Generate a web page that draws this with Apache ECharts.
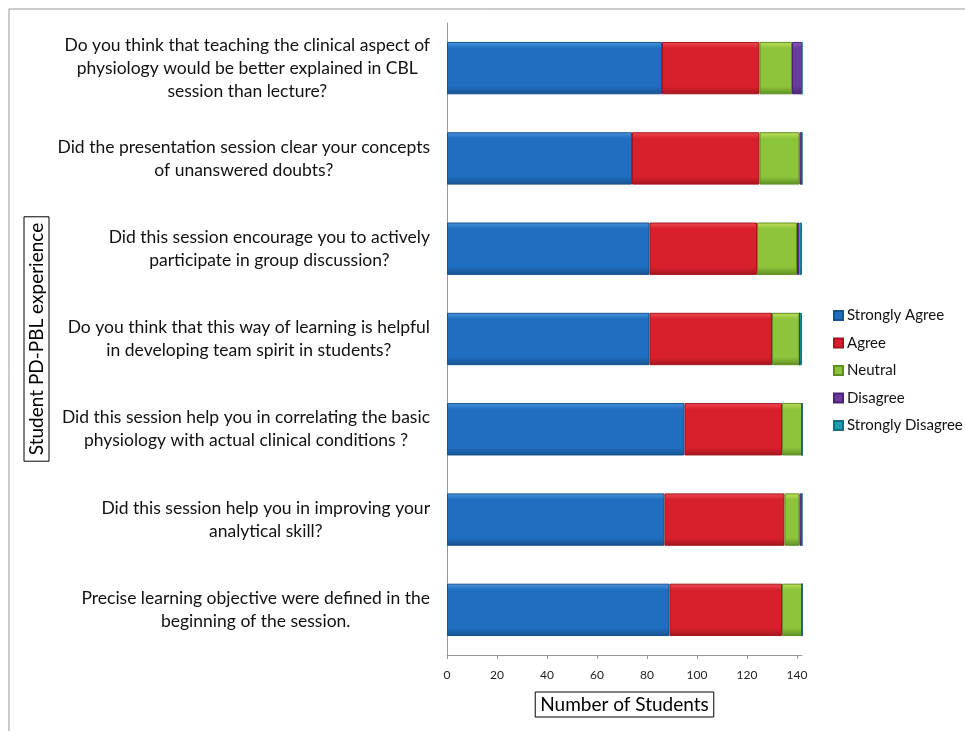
<!DOCTYPE html>
<html>
<head>
<meta charset="utf-8">
<script src="https://cdn.jsdelivr.net/npm/echarts@6/dist/echarts.min.js"></script>
<style>
  html, body { margin: 0; padding: 0; background: #fff; }
  #chart { width: 965px; height: 731px; }
</style>
</head>
<body>
<div id="chart"></div>
<script>
const questions = [
  "Do you think that teaching the clinical aspect of\nphysiology would be better explained in CBL\nsession than lecture?",
  "Did the presentation session clear your concepts\nof unanswered doubts?",
  "Did this session encourage you to actively\nparticipate in group discussion?",
  "Do you think that this way of learning is helpful\nin developing team spirit in students?",
  "Did this session help you in correlating the basic\nphysiology with actual clinical conditions ?",
  "Did this session help you in improving your\nanalytical skill?",
  "Precise learning objective were defined in the\nbeginning of the session."
];
const stronglyAgree = [86, 74, 81, 81, 95, 87, 89];
const agree = [39, 51, 43, 49, 39, 48, 45];
const neutral = [13, 16, 16, 11, 8, 6, 8];
const disagree = [4, 1, 1, 0, 0, 1, 0];
const stronglyDisagree = [0, 0, 1, 1, 0, 0, 0];
const xTicks = [0, 20, 40, 60, 80, 100, 120, 140];

const font = "Lato, 'Open Sans', sans-serif";

// bevel look: lighter top edge, darker bottom
function shade(top, mid, bottom) {
  return new echarts.graphic.LinearGradient(0, 0, 0, 1, [
    { offset: 0, color: top },
    { offset: 0.12, color: mid },
    { offset: 0.85, color: mid },
    { offset: 1, color: bottom }
  ]);
}

const seriesDefs = [
  { name: "Strongly Agree", data: stronglyAgree, c: ["#4a94dc", "#1f6ebf", "#17528f"] },
  { name: "Agree", data: agree, c: ["#ee4b55", "#d8202c", "#a3161f"] },
  { name: "Neutral", data: neutral, c: ["#c4e05a", "#8cc43c", "#5f8f22"] },
  { name: "Disagree", data: disagree, c: ["#8d5cc4", "#6a3a9e", "#4a2372"] },
  { name: "Strongly Disagree", data: stronglyDisagree, c: ["#3cc0cf", "#1a9fb0", "#11707c"] }
];

const chart = echarts.init(document.getElementById("chart"));
chart.setOption({
  animation: false,
  textStyle: { fontFamily: font },
  grid: { left: 447, right: 163, top: 23, bottom: 76, containLabel: false },
  legend: {
    orient: "vertical",
    left: 828,
    top: 303,
    itemWidth: 9,
    itemHeight: 9,
    itemGap: 12.5,
    icon: "rect",
    textStyle: { fontSize: 15, color: "#111", fontFamily: font, padding: [0, 0, 0, -1] },
    data: seriesDefs.map((s) => s.name)
  },
  xAxis: {
    type: "value",
    min: 0,
    max: 142,
    interval: 20,
    name: "Number of Students",
    nameLocation: "middle",
    nameGap: 37,
    nameTextStyle: {
      fontSize: 19,
      color: "#000",
      fontFamily: font,
      borderColor: "#000",
      borderWidth: 1,
      padding: [3, 5, 3, 5]
    },
    axisLine: { show: true, lineStyle: { color: "#999", width: 1 } },
    axisTick: { show: true, length: 4, lineStyle: { color: "#999" } },
    axisLabel: {
      fontSize: 12,
      color: "#222",
      margin: 14,
      showMaxLabel: false,
      formatter: (v) => (xTicks.includes(v) ? String(v) : "")
    },
    splitLine: { show: false }
  },
  yAxis: {
    type: "category",
    inverse: true,
    data: questions,
    name: "Student PD-PBL experience",
    nameLocation: "middle",
    nameGap: 398,
    nameRotate: 90,
    nameTextStyle: {
      fontSize: 19,
      color: "#000",
      fontFamily: font,
      borderColor: "#000",
      borderWidth: 1,
      padding: [3, 6, 3, 6]
    },
    axisLine: { show: true, lineStyle: { color: "#999", width: 1 } },
    axisTick: { show: false },
    axisLabel: {
      margin: 17,
      fontSize: 17.5,
      color: "#111",
      lineHeight: 23,
      formatter: (v) => v.split("\n").map((l) => "{c|" + l + "}").join("\n"),
      rich: { c: { align: "center", fontSize: 17.5, lineHeight: 23, color: "#111", fontFamily: font } }
    }
  },
  graphic: [
    {
      type: "rect",
      shape: { x: 9, y: 9, width: 1000, height: 1000 },
      style: { fill: "none", stroke: "#999", lineWidth: 1 },
      silent: true
    }
  ],
  series: seriesDefs.map((s) => ({
    name: s.name,
    type: "bar",
    stack: "total",
    barWidth: "58%",
    data: s.data,
    itemStyle: {
      color: shade(s.c[0], s.c[1], s.c[2]),
      borderColor: s.c[2],
      borderWidth: 1
    },
    emphasis: { disabled: true }
  }))
});
</script>
</body>
</html>
